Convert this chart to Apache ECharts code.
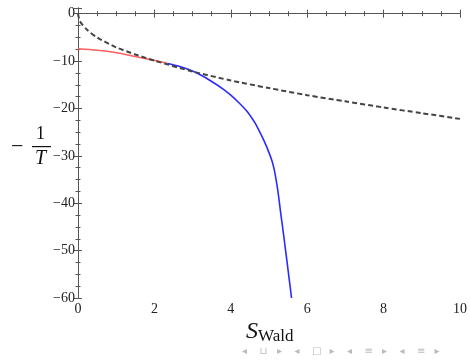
<!DOCTYPE html>
<html>
<head>
<meta charset="utf-8">
<script src="https://cdn.jsdelivr.net/npm/echarts@6/dist/echarts.min.js"></script>
<style>
  html, body { margin: 0; padding: 0; background: #fff; }
  #chart { width: 470px; height: 362px; }
</style>
</head>
<body>
<div id="chart"></div>
<script>
// values
const dashedX = [0, 0.05, 0.25, 0.5, 1, 1.5, 2, 3, 4, 5, 6, 7, 8, 9, 10];
const dashedY = [0, -1.6, -3.5, -5.0, -7.1, -8.6, -9.9, -12.2, -14.1, -15.7, -17.2, -18.5, -19.8, -21.0, -22.2];

const redX = [0, 0.5, 0.9, 1.3, 1.75, 2.05, 2.35];
const redY = [-7.4, -7.7, -8.1, -8.7, -9.45, -9.95, -10.5];

const blueX = [2.35, 2.6, 2.9, 3.2, 3.5, 3.8, 4.0, 4.2, 4.4, 4.55, 4.63, 4.76, 4.88, 4.985, 5.075, 5.14, 5.185, 5.225, 5.265, 5.305, 5.355, 5.435, 5.513, 5.59];
const blueY = [-10.5, -11.0, -11.8, -12.9, -14.3, -15.9, -17.2, -18.7, -20.4, -22.0, -23.0, -25.0, -27.0, -29.0, -31.0, -33.0, -35.0, -37.0, -39.4, -42.0, -45.0, -50.0, -55.0, -60.0];

const xTicks = [0, 2, 4, 6, 8, 10];
const yTicks = [-60, -50, -40, -30, -20, -10, 0];

const navSymbols = ['\u25C2', '\u2294', '\u25B8', '\u25C2', '\u25A1', '\u25B8', '\u25C2', '\u2261', '\u25B8', '\u25C2', '\u2261', '\u25B8'];

const zip = (xs, ys) => xs.map((x, i) => [x, ys[i]]);
const fmt = (v) => (v < 0 ? '\u2212' + Math.abs(v) : String(v));

const serif = '"Liberation Serif", "DejaVu Serif", serif';
const axisColor = '#555';

let chart = echarts.init(document.getElementById('chart'));

const tickStyle = { show: true, inside: true, length: 4, lineStyle: { color: axisColor } };
const minorStyle = { show: true, splitNumber: 4, length: 2.5, lineStyle: { color: axisColor } };

chart.setOption({
    animation: false,
    grid: { left: 78, right: 8, top: 8, bottom: 64 },
    xAxis: [{
        type: 'value',
        min: xTicks[0],
        max: xTicks[xTicks.length - 1],
        interval: 2,
        position: 'bottom',
        axisLine: { lineStyle: { color: axisColor } },
        axisTick: tickStyle,
        minorTick: minorStyle,
        splitLine: { show: false },
        axisLabel: { color: '#222', fontFamily: serif, fontSize: 14, margin: 4 }
    }, {
        type: 'value',
        min: xTicks[0],
        max: xTicks[xTicks.length - 1],
        interval: 2,
        position: 'top',
        axisLine: { lineStyle: { color: axisColor } },
        axisTick: tickStyle,
        minorTick: minorStyle,
        splitLine: { show: false },
        axisLabel: { show: false }
    }],
    yAxis: [{
        type: 'value',
        min: yTicks[0],
        max: 1.2,
        interval: 10,
        position: 'left',
        axisLine: { lineStyle: { color: axisColor } },
        axisTick: tickStyle,
        minorTick: minorStyle,
        splitLine: { show: false },
        axisLabel: {
            color: '#222', fontFamily: serif, fontSize: 14, margin: 3,
            showMaxLabel: false,
            formatter: (v) => (yTicks.includes(v) ? fmt(v) : '')
        }
    }, {
        type: 'value',
        min: yTicks[0],
        max: 1.2,
        interval: 10,
        position: 'right',
        axisLine: { show: true, lineStyle: { color: axisColor } },
        axisTick: tickStyle,
        minorTick: minorStyle,
        splitLine: { show: false },
        axisLabel: { show: false }
    }],
    series: [{
        type: 'line',
        data: zip(redX, redY),
        smooth: 0.25,
        symbol: 'none',
        lineStyle: { color: '#ff5f5f', width: 1.6 }
    }, {
        type: 'line',
        data: zip(blueX, blueY),
        smooth: 0.25,
        symbol: 'none',
        lineStyle: { color: '#2b2bff', width: 1.6 }
    }, {
        type: 'line',
        data: zip(dashedX, dashedY),
        smooth: 0.25,
        symbol: 'none',
        z: 5,
        lineStyle: { color: '#444', width: 2, type: [5, 3] }
    }],
    graphic: [
        { type: 'text', left: 11, top: 136, style: { text: '\u2212', font: '22px ' + serif, fill: '#111' } },
        { type: 'text', left: 36, top: 125, style: { text: '1', font: '18px ' + serif, fill: '#111' } },
        { type: 'rect', left: 32, top: 146, shape: { width: 19, height: 1.2 }, style: { fill: '#111' } },
        { type: 'text', left: 35, top: 149, style: { text: 'T', font: 'italic 20px ' + serif, fill: '#111' } },
        {
            type: 'text', left: 246, top: 320,
            style: {
                text: '{s|S}{w|Wald}',
                fill: '#111',
                rich: {
                    s: { font: 'italic 24px ' + serif, fill: '#111' },
                    w: { font: '17px ' + serif, fill: '#111', padding: [10, 0, 0, 0] }
                }
            }
        }
    ].concat(navSymbols.map((s, i) => ({
        type: 'text',
        left: 242 + i * 17.5,
        top: 346,
        style: { text: s, font: '10px "DejaVu Sans", sans-serif', fill: '#bbb' }
    })))
});
</script>
</body>
</html>
